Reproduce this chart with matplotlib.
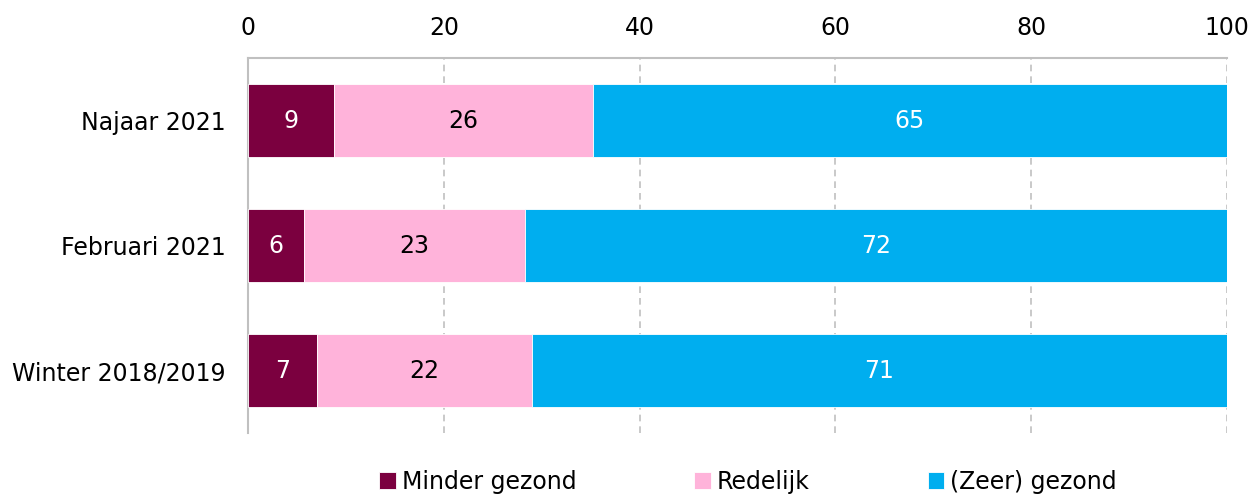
import numpy as np
import matplotlib.pyplot as plt

categories = ['Najaar 2021', 'Februari 2021', 'Winter 2018/2019']
minder = [8.8, 5.7, 7.0]
redelijk = [26.4, 22.6, 22.0]
gezond = [64.8, 71.7, 71.0]
labels_minder = [9, 6, 7]
labels_redelijk = [26, 23, 22]
labels_gezond = [65, 72, 71]

series = [
    ('Minder gezond', minder, labels_minder, '#7B003F', 'white'),
    ('Redelijk', redelijk, labels_redelijk, '#FFB3DA', 'black'),
    ('(Zeer) gezond', gezond, labels_gezond, '#00AEEF', 'white'),
]

plt.rcParams['font.family'] = ['DejaVu Sans']
fs = 17

fig = plt.figure(figsize=(12.51, 4.94), dpi=100)
ax = fig.add_axes([248 / 1251, 1 - 433 / 494, 979 / 1251, 375 / 494])

y = np.arange(len(categories))
left = np.zeros(len(categories))
handles = []
for name, vals, labs, col, tcol in series:
    bars = ax.barh(y, vals, left=left, height=0.584, color=col,
                   edgecolor='white', linewidth=0.6, label=name, zorder=3)
    handles.append(bars)
    for yi, l, v, lab in zip(y, left, vals, labs):
        ax.text(l + v / 2, yi, str(lab), ha='center', va='center',
                color=tcol, fontsize=fs, zorder=4)
    left = left + np.array(vals)

ax.set_xlim(0, 100)
ax.set_ylim(2.5, -0.5)
ax.set_yticks(y)
ax.set_yticklabels(categories, fontsize=fs)
ax.set_xticks(range(0, 101, 20))
ax.xaxis.tick_top()
ax.tick_params(axis='x', labelsize=fs, length=0, pad=13)
ax.tick_params(axis='y', length=0, pad=16)
ax.grid(axis='x', color='#C0C0C0', linestyle=(0, (4, 3)), linewidth=1.2, zorder=0)

for s in ['right', 'bottom']:
    ax.spines[s].set_visible(False)
ax.spines['top'].set_color('#C0C0C0')
ax.spines['left'].set_color('#C0C0C0')
ax.spines['top'].set_linewidth(1.5)
ax.spines['left'].set_linewidth(1.5)

fig.legend(handles=handles, loc='center', bbox_to_anchor=(0.598, 0.025),
           ncol=3, frameon=False, fontsize=fs, handlelength=0.7,
           handleheight=0.7, handletextpad=0.25, columnspacing=5.0)

fig.savefig('out.png', dpi=100)
